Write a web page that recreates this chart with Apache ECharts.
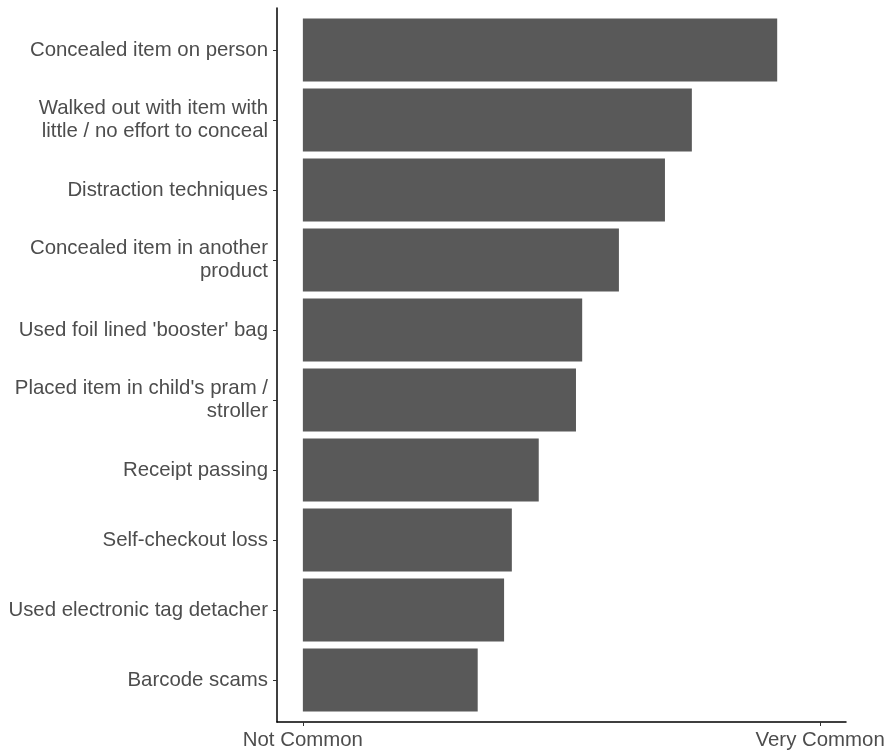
<!DOCTYPE html>
<html>
<head>
<meta charset="utf-8">
<script src="https://cdn.jsdelivr.net/npm/echarts@6/dist/echarts.min.js"></script>
<style>
  html, body { margin: 0; padding: 0; background: #fff; }
  #chart { width: 891px; height: 752px; }
</style>
</head>
<body>
<div id="chart"></div>
<script>
// categories, top to bottom
var categories = [
    'Concealed item on person',
    'Walked out with item with\nlittle / no effort to conceal',
    'Distraction techniques',
    'Concealed item in another\nproduct',
    'Used foil lined \'booster\' bag',
    'Placed item in child\'s pram /\nstroller',
    'Receipt passing',
    'Self-checkout loss',
    'Used electronic tag detacher',
    'Barcode scams'
];

// how common, 0 = not common, 1 = very common
var values = [0.917, 0.752, 0.700, 0.611, 0.540, 0.528, 0.456, 0.404, 0.389, 0.338];

var tickValues = [0, 1];
var tickLabels = ['Not Common', 'Very Common'];

var chart = echarts.init(document.getElementById('chart'));

var labelStyle = {
    fontFamily: 'Liberation Sans, Arial, sans-serif',
    fontSize: 20.4,
    color: '#4d4d4d'
};

chart.setOption({
    animation: false,
    grid: [
        // bars
        { left: 277, right: 45, top: 15, height: 700 },
        // axis lines, padded like ggplot
        { left: 277, right: 45, top: 8, bottom: 30 }
    ],
    xAxis: [
        {
            gridIndex: 0,
            type: 'value',
            min: -0.05,
            max: 1.05,
            show: false
        },
        {
            gridIndex: 1,
            type: 'value',
            min: -0.05,
            max: 1.05,
            axisLine: { show: true, onZero: false, lineStyle: { color: '#000', width: 1.5 } },
            axisTick: {
                show: true,
                length: 4,
                customValues: tickValues,
                lineStyle: { color: '#333', width: 1 }
            },
            axisLabel: Object.assign({
                customValues: tickValues,
                margin: 8,
                formatter: function (v) {
                    return tickLabels[tickValues.indexOf(v)];
                }
            }, labelStyle),
            splitLine: { show: false }
        }
    ],
    yAxis: [
        {
            gridIndex: 0,
            type: 'category',
            inverse: true,
            data: categories,
            axisLine: { show: false, onZero: false },
            axisTick: {
                show: true,
                alignWithLabel: true,
                length: 4,
                lineStyle: { color: '#333', width: 1 }
            },
            axisLabel: Object.assign({
                margin: 9,
                lineHeight: 23,
                align: 'right'
            }, labelStyle),
            splitLine: { show: false }
        },
        {
            gridIndex: 1,
            type: 'value',
            min: 0,
            max: 1,
            axisLine: { show: true, onZero: false, lineStyle: { color: '#000', width: 1.5 } },
            axisTick: { show: false },
            axisLabel: { show: false },
            splitLine: { show: false }
        }
    ],
    series: [{
        type: 'bar',
        xAxisIndex: 0,
        yAxisIndex: 0,
        data: values,
        barWidth: '90%',
        itemStyle: { color: '#595959' }
    }]
});
</script>
</body>
</html>
